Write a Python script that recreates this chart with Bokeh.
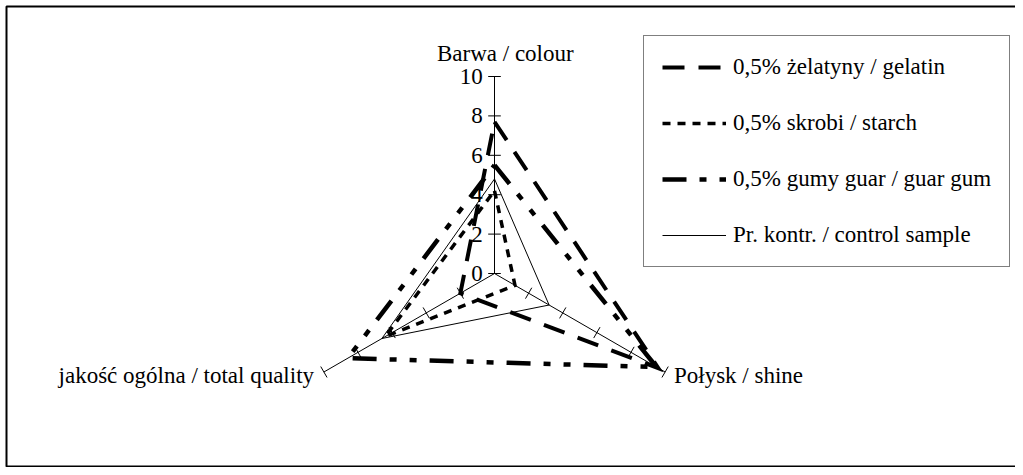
import math
from bokeh.plotting import figure
from bokeh.models import Range1d, Legend, LegendItem
from bokeh.core.properties import value
from bokeh.embed import file_html
from bokeh.resources import INLINE

# ---- data ----
categories = ["Barwa / colour", "Połysk / shine", "jakość ogólna / total quality"]
series_names = ["0,5% żelatyny / gelatin", "0,5% skrobi / starch",
                "0,5% gumy guar / guar gum", "Pr. kontr. / control sample"]
gelatin = [7.7, 9.6, 2.0]
starch = [4.2, 1.2, 6.4]
guar = [5.5, 9.5, 8.6]
control = [4.8, 3.2, 6.6]
tick_values = [0, 2, 4, 6, 8, 10]
tick_labels = ["0", "2", "4", "6", "8", "10"]
r_max = 10

# ---- layout ----
W, H = 1015, 467
unit = 19.7            # px per scale unit
cx, cy = 494, 273      # centre, px from top-left of plot
FONT = "Liberation Serif"
FS = "23px"

angles = [math.pi / 2, -math.pi / 6, math.pi + math.pi / 6]

p = figure(width=W, height=H, output_backend="svg", toolbar_location=None,
           x_axis_type=None, y_axis_type=None, min_border=0,
           x_range=Range1d(-cx / unit, (W - cx) / unit),
           y_range=Range1d(-(H - cy) / unit, cy / unit))
p.grid.visible = False
p.outline_line_color = None
p.background_fill_color = "white"

# outer frame
p.quad(left=[(6 - cx) / unit], right=[(W + 30 - cx) / unit],
       top=[(cy - 6) / unit], bottom=[-(466 - cy) / unit],
       fill_color=None, line_color="black", line_width=2)

# axes of the radar
for a in angles:
    p.line([0, r_max * math.cos(a)], [0, r_max * math.sin(a)], line_color="black", line_width=1)

# ticks
half = 0.32
for i, a in enumerate(angles):
    ux, uy = math.cos(a), math.sin(a)
    px, py = -uy, ux
    tv = tick_values if i == 0 else tick_values[1:]
    x0 = [t * ux - half * px for t in tv]
    y0 = [t * uy - half * py for t in tv]
    x1 = [t * ux + half * px for t in tv]
    y1 = [t * uy + half * py for t in tv]
    p.segment(x0, y0, x1, y1, line_color="black", line_width=1)

# tick labels on the colour axis
p.text(x=[-0.6] * len(tick_values), y=tick_values, text=tick_labels,
       text_align="right", text_baseline="middle",
       text_font=value(FONT), text_font_size=FS, text_color="black")

# category labels
p.text(x=[0.55], y=[r_max + 1.15], text=[categories[0]], text_align="center",
       text_baseline="middle", text_font=value(FONT), text_font_size=FS, text_color="black")
ex, ey = r_max * math.cos(angles[1]), r_max * math.sin(angles[1])
p.text(x=[ex + 0.45], y=[ey - 0.2], text=[categories[1]], text_align="left",
       text_baseline="middle", text_font=value(FONT), text_font_size=FS, text_color="black")
ex, ey = r_max * math.cos(angles[2]), r_max * math.sin(angles[2])
p.text(x=[ex - 0.5], y=[ey - 0.2], text=[categories[2]], text_align="right",
       text_baseline="middle", text_font=value(FONT), text_font_size=FS, text_color="black")


def poly(vals):
    xs = [v * math.cos(a) for v, a in zip(vals, angles)]
    ys = [v * math.sin(a) for v, a in zip(vals, angles)]
    return xs + xs[:1], ys + ys[:1]


styles = [
    dict(line_width=4, line_dash="22 14"),
    dict(line_width=3.5, line_dash="8 7"),
    dict(line_width=4.5, line_dash="24 13 7 13 7 13"),
    dict(line_width=1, line_dash="solid"),
]
renderers = []
for vals, st in zip([gelatin, starch, guar, control], styles):
    xs, ys = poly(vals)
    r = p.line(xs, ys, line_color="black", line_join="miter", **st)
    renderers.append(r)

legend = Legend(items=[LegendItem(label=n, renderers=[r]) for n, r in zip(series_names, renderers)],
                location=(643, H - 267), orientation="vertical",
                label_text_font=FONT, label_text_font_size=FS, label_text_color="black",
                glyph_width=64, glyph_height=26, label_height=26, label_standoff=7,
                spacing=30, padding=18, margin=0,
                border_line_color="black", border_line_width=1,
                background_fill_color="white", background_fill_alpha=1.0)
p.add_layout(legend, "center")

open("out.html", "w").write(file_html(p, INLINE))
